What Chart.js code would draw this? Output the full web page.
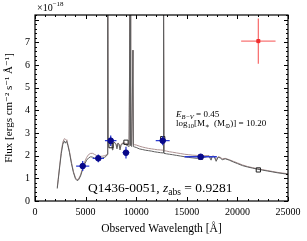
<!DOCTYPE html>
<html>
<head>
<meta charset="utf-8">
<script src="https://cdn.jsdelivr.net/npm/chart.js@4/dist/chart.umd.min.js"></script>
<style>
  html, body { margin: 0; padding: 0; background: #fff; }
  #sed { display: block; }
</style>
</head>
<body>
<canvas id="sed" width="307" height="241"></canvas>
<script>
// model spectra (flux in units of 1e-18), emission lines are the tall spikes
const wave = [2200, 2300, 2450, 2600, 2750, 2900, 3000, 3080, 3150, 3250, 3400, 3600, 3800, 4000, 4150, 4300, 4500, 4700, 4900, 5100, 5300, 5500, 5700, 5900, 6100, 6300, 6500, 6700, 6900, 7050, 7150, 7186, 7220, 7300, 7400, 7500, 7600, 7650, 7700, 7800, 7900, 8000, 8100, 8200, 8300, 8400, 8500, 8700, 8900, 9100, 9300, 9390, 9450, 9550, 9680, 9720, 9850, 10000, 10300, 10600, 10900, 11200, 11500, 11800, 12100, 12400, 12650, 12700, 12750, 13000, 13300, 13600, 14000, 14400, 14800, 15200, 15600, 16000, 16400, 16800, 17000, 17200, 17400, 17500, 17700, 17900, 18100, 18300, 18500, 18800, 19200, 19600, 20000, 20500, 21000, 21500, 22000, 22500, 23000, 23500, 24000, 24500, 25000];
const fluxGrey = [0.55, 0.95, 1.55, 2.1, 2.5, 2.65, 2.55, 2.62, 2.6, 2.45, 2.15, 1.65, 1.25, 0.98, 0.9, 0.93, 1.1, 1.38, 1.62, 1.8, 1.9, 1.95, 1.93, 1.88, 1.85, 1.83, 1.86, 1.9, 1.93, 1.98, 2.05, 9.5, 2.55, 2.62, 2.6, 2.55, 2.58, 2.25, 2.5, 2.6, 2.55, 2.5, 2.3, 2.55, 2.5, 2.25, 2.45, 2.55, 2.5, 2.45, 2.4, 9.5, 2.45, 2.4, 6.65, 2.4, 2.38, 2.36, 2.3, 2.27, 2.24, 2.22, 2.2, 2.17, 2.15, 2.13, 2.12, 9.5, 2.1, 2.08, 2.06, 2.04, 2.01, 1.98, 1.95, 1.92, 1.9, 1.88, 1.9, 1.93, 1.96, 1.97, 1.8, 1.95, 1.96, 1.75, 1.93, 1.9, 1.82, 1.86, 1.8, 1.72, 1.65, 1.56, 1.5, 1.45, 1.4, 1.36, 1.32, 1.28, 1.24, 1.21, 1.18];
const fluxRose = [0.6, 1.0, 1.6, 2.2, 2.6, 2.75, 2.72, 2.7, 2.66, 2.5, 2.2, 1.72, 1.3, 1.02, 0.94, 0.97, 1.15, 1.45, 1.72, 1.92, 2.05, 2.1, 2.1, 2.05, 2.0, 1.97, 1.97, 1.98, 2.0, 2.03, 2.08, 9.5, 2.55, 2.6, 2.58, 2.55, 2.56, 2.3, 2.52, 2.6, 2.57, 2.53, 2.38, 2.56, 2.52, 2.35, 2.5, 2.57, 2.55, 2.52, 2.48, 9.5, 2.5, 2.48, 6.65, 2.5, 2.48, 2.47, 2.42, 2.38, 2.35, 2.32, 2.3, 2.28, 2.26, 2.25, 2.24, 9.5, 2.22, 2.2, 2.17, 2.15, 2.12, 2.09, 2.06, 2.04, 2.02, 2.01, 2.0, 2.0, 2.0, 2.0, 1.88, 1.98, 1.98, 1.82, 1.95, 1.93, 1.86, 1.88, 1.82, 1.75, 1.68, 1.59, 1.52, 1.47, 1.42, 1.38, 1.34, 1.3, 1.26, 1.23, 1.2];

// observed photometry
const obsWave = [4713, 6256, 7480, 8990, 12620, 16370];
const obsFlux = [1.54, 1.88, 2.66, 2.13, 2.66, 1.95];
const obsWaveErr = [650, 560, 570, 330, 690, 1600];
const obsFluxErr = [0.22, 0.17, 0.23, 0.26, 0.2, 0.08];

// model photometry (open squares)
const modWave = [7510, 8990, 12620, 16370, 22070];
const modFlux = [2.44, 2.59, 2.75, 1.93, 1.37];

// upper / outlier point in red
const redWave = [22070];
const redFlux = [7.05];
const redWaveErr = [1700];
const redFluxErr = [1.0];

function pts(xs, ys) {
  return xs.map((x, i) => ({x: x, y: ys[i]}));
}

// error bars as line segments separated by gaps
function errBars(xs, ys, xe, ye) {
  const out = [];
  xs.forEach((x, i) => {
    out.push({x: x - xe[i], y: ys[i]}, {x: x + xe[i], y: ys[i]}, {x: x, y: null});
    out.push({x: x, y: ys[i] - ye[i]}, {x: x, y: ys[i] + ye[i]}, {x: x, y: null});
  });
  return out;
}

const serif = '"Liberation Serif", "DejaVu Serif", serif';

// inward ticks on all four sides + frame + text labels
const decor = {
  id: 'decor',
  afterDatasetsDraw(chart) {
    const ctx = chart.ctx;
    const a = chart.chartArea;
    const xs = chart.scales.x, ys = chart.scales.y;
    ctx.save();
    ctx.strokeStyle = '#000';
    ctx.lineWidth = 1;
    ctx.beginPath();
    for (let v = 0; v <= 25000; v += 1000) {
      const px = Math.round(xs.getPixelForValue(v)) + 0.5;
      const len = v % 5000 === 0 ? 4 : 2;
      ctx.moveTo(px, a.bottom); ctx.lineTo(px, a.bottom - len);
      ctx.moveTo(px, a.top); ctx.lineTo(px, a.top + len);
    }
    for (let k = 0; k <= 41; k++) {
      const v = k * 0.2;
      const py = Math.round(ys.getPixelForValue(v)) + 0.5;
      const len = k % 5 === 0 ? 4 : 2;
      ctx.moveTo(a.left, py); ctx.lineTo(a.left + len, py);
      ctx.moveTo(a.right, py); ctx.lineTo(a.right - len, py);
    }
    ctx.stroke();
    ctx.lineWidth = 1.2;
    ctx.strokeRect(a.left, a.top, a.right - a.left, a.bottom - a.top);

    ctx.fillStyle = '#000';
    ctx.textBaseline = 'alphabetic';
    // offset label
    ctx.font = '10px ' + serif;
    ctx.fillText('×10', 37, 11);
    let w = ctx.measureText('×10').width;
    ctx.font = '7px ' + serif;
    ctx.fillText('−18', 37 + w, 6);

    // parameters
    let x = 176;
    ctx.font = 'italic 9px ' + serif;
    ctx.fillText('E', x, 117); x += ctx.measureText('E').width;
    ctx.font = 'italic 6.5px ' + serif;
    ctx.fillText('B−V', x, 119); x += ctx.measureText('B−V').width;
    ctx.font = '9px ' + serif;
    ctx.fillText(' = 0.45', x, 117);

    x = 176;
    ctx.font = '9px ' + serif;
    ctx.fillText('log', x, 126); x += ctx.measureText('log').width;
    ctx.font = '6.5px ' + serif;
    ctx.fillText('10', x, 128); x += ctx.measureText('10').width;
    ctx.font = '9px ' + serif;
    ctx.fillText('[M', x, 126); x += ctx.measureText('[M').width;
    ctx.font = '6.5px ' + serif;
    ctx.fillText('∗', x, 128); x += ctx.measureText('∗').width;
    ctx.font = '9px ' + serif;
    ctx.fillText('  (M', x, 126); x += ctx.measureText('  (M').width;
    ctx.font = '6.5px ' + serif;
    ctx.fillText('⊙', x, 128); x += ctx.measureText('⊙').width;
    ctx.font = '9px ' + serif;
    ctx.fillText(')] = 10.20', x, 126);

    // object name
    x = 88;
    ctx.font = '13.5px ' + serif;
    ctx.fillText('Q1436-0051, ', x, 192); x += ctx.measureText('Q1436-0051, ').width;
    ctx.font = 'italic 13.5px ' + serif;
    ctx.fillText('z', x, 192); x += ctx.measureText('z').width;
    ctx.font = '9.5px ' + serif;
    ctx.fillText('abs', x, 195); x += ctx.measureText('abs').width;
    ctx.font = '13.5px ' + serif;
    ctx.fillText(' = 0.9281', x, 192);
    ctx.restore();
  }
};

new Chart(document.getElementById('sed'), {
  type: 'line',
  data: {
    datasets: [
      {
        data: pts(redWave, redFlux),
        showLine: false,
        pointStyle: 'rect',
        pointRadius: 2.2,
        backgroundColor: 'rgba(240,40,40,0.9)',
        borderColor: 'rgba(240,40,40,0.9)'
      },
      {
        data: errBars(redWave, redFlux, redWaveErr, redFluxErr),
        borderColor: 'rgba(245,70,70,0.75)',
        borderWidth: 1.3,
        pointRadius: 0,
        spanGaps: false
      },
      {
        data: pts(obsWave, obsFlux),
        showLine: false,
        pointRadius: 2.8,
        backgroundColor: '#08088a',
        borderColor: '#08088a'
      },
      {
        data: errBars(obsWave, obsFlux, obsWaveErr, obsFluxErr),
        borderColor: '#2a3ad0',
        borderWidth: 1.3,
        pointRadius: 0,
        spanGaps: false
      },
      {
        data: pts(modWave, modFlux),
        showLine: false,
        pointStyle: 'rect',
        pointRadius: 3,
        borderWidth: 1,
        backgroundColor: 'rgba(255,255,255,0)',
        borderColor: '#222'
      },
      {
        data: pts(wave, fluxGrey),
        borderColor: '#5e5e5e',
        borderWidth: 1,
        pointRadius: 0,
        tension: 0
      },
      {
        data: pts(wave, fluxRose),
        borderColor: '#ad9292',
        borderWidth: 1,
        pointRadius: 0,
        tension: 0
      }
    ]
  },
  options: {
    responsive: false,
    animation: false,
    devicePixelRatio: 1,
    layout: { padding: { top: 15, right: 19, left: 0, bottom: 0 } },
    plugins: {
      legend: { display: false },
      tooltip: { enabled: false }
    },
    scales: {
      x: {
        type: 'linear',
        min: 0,
        max: 25000,
        afterFit(s) { s.height = 40; },
        grid: { display: false, drawTicks: false },
        border: { display: false },
        ticks: {
          stepSize: 5000,
          padding: 5,
          color: '#000',
          font: { family: serif, size: 10 },
          maxRotation: 0,
          callback: v => String(v)
        },
        title: {
          display: true,
          text: 'Observed Wavelength [Å]',
          color: '#000',
          font: { family: serif, size: 11.5 },
          padding: { top: 0, bottom: 5 }
        }
      },
      y: {
        min: 0,
        max: 8.2,
        afterFit(s) { s.width = 35; },
        grid: { display: false, drawTicks: false },
        border: { display: false },
        ticks: {
          stepSize: 1,
          padding: 5,
          color: '#000',
          font: { family: serif, size: 10 },
          callback: v => Number.isInteger(v) ? String(v) : ''
        },
        title: {
          display: true,
          text: 'Flux [ergs cm⁻² s⁻¹ Å⁻¹]',
          color: '#000',
          font: { family: serif, size: 11 },
          padding: { top: 3, bottom: 0 }
        }
      }
    }
  },
  plugins: [decor]
});
</script>
</body>
</html>
